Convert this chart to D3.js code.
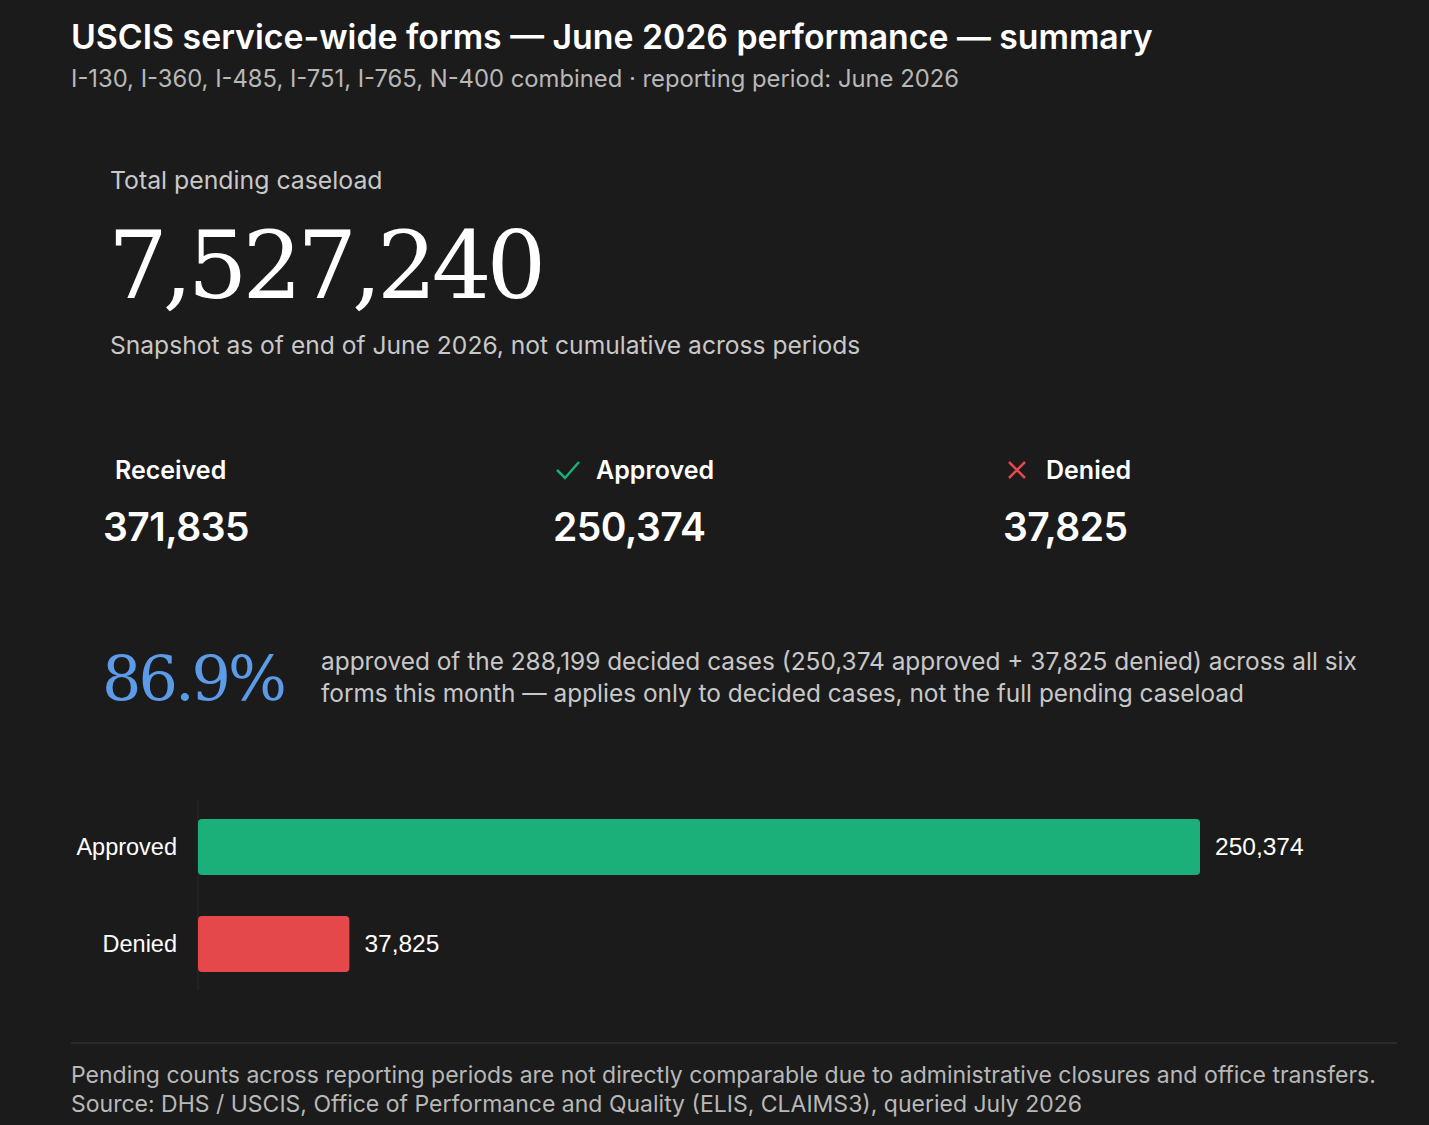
<!DOCTYPE html>
<html>
<head>
<script src="https://d3js.org/d3.v7.min.js"></script>
<style>
body { margin:0; background:#1b1b1b; }
text { font-family: Inter, "Noto Sans", sans-serif; }
</style>
</head>
<body>
<script>
var w = 1429, h = 1125;

// data
var totalPending = 7527240;
var kpiLabels = ["Received", "Approved", "Denied"];
var kpiValues = [371835, 250374, 37825];
var barCats = ["Approved", "Denied"];
var barValues = [250374, 37825];
var barColors = ["#1bb07a", "#e5484a"];

var fmt = d3.format(",");
var svg = d3.select("body").append("svg").attr("width", w).attr("height", h);

svg.append("text").attr("x", 71).attr("y", 49).attr("fill", "#ffffff")
  .style("font-size", "33.8px").style("font-weight", 600)
  .text("USCIS service-wide forms — June 2026 performance — summary");
svg.append("text").attr("x", 71).attr("y", 87).attr("fill", "#b8b8b8")
  .style("font-size", "23.8px")
  .text("I-130, I-360, I-485, I-751, I-765, N-400 combined · reporting period: June 2026");

svg.append("text").attr("x", 110).attr("y", 189).attr("fill", "#c8c8c8")
  .style("font-size", "24.8px").text("Total pending caseload");
svg.append("text").attr("x", 108).attr("y", 298).attr("fill", "#ffffff")
  .style("font-family", "'DejaVu Serif', serif").style("font-size", "94px")
  .style("letter-spacing", "-5px").text(fmt(totalPending));
svg.append("text").attr("x", 110).attr("y", 354).attr("fill", "#c8c8c8")
  .style("font-size", "24.6px").text("Snapshot as of end of June 2026, not cumulative across periods");

// KPIs
var kx = [103, 553, 1003];
kpiLabels.forEach(function(l, i) {
  var lx = kx[i] + (i == 0 ? 12 : 43);
  svg.append("text").attr("x", lx).attr("y", 479).attr("fill", "#ffffff")
    .style("font-size", "25px").style("font-weight", 600).text(l);
  svg.append("text").attr("x", kx[i]).attr("y", 541).attr("fill", "#ffffff")
    .style("font-size", "39px").style("font-weight", 600).style("letter-spacing", "-0.5px").text(fmt(kpiValues[i]));
});
svg.append("path").attr("d", "M557,470 L565,478 L579,462").attr("fill", "none")
  .attr("stroke", "#1bb07a").attr("stroke-width", 2.5);
svg.append("path").attr("d", "M1009,462 L1025,478 M1025,462 L1009,478").attr("fill", "none")
  .attr("stroke", "#e5484a").attr("stroke-width", 2.5);

// rate
var rate = kpiValues[1] / (kpiValues[1] + kpiValues[2]);
svg.append("text").attr("x", 102).attr("y", 700).attr("fill", "#5b9be8")
  .style("font-family", "'DejaVu Serif', serif").style("font-size", "62px")
  .style("letter-spacing", "-3px").text(d3.format(".1%")(rate));
svg.append("text").attr("x", 321).attr("y", 670).attr("fill", "#c8c8c8").style("font-size", "24.4px")
  .text("approved of the " + fmt(kpiValues[1] + kpiValues[2]) + " decided cases (" + fmt(kpiValues[1]) + " approved + " + fmt(kpiValues[2]) + " denied) across all six");
svg.append("text").attr("x", 321).attr("y", 702).attr("fill", "#c8c8c8").style("font-size", "24.4px")
  .text("forms this month — applies only to decided cases, not the full pending caseload");

// bars
var x = d3.scaleLinear().domain([0, 250374]).range([198, 1200]);
var y = d3.scaleBand().domain(barCats).range([819, 972]).paddingInner(41 / 97).paddingOuter(0);
svg.append("line").attr("x1", 198).attr("x2", 198).attr("y1", 800).attr("y2", 990)
  .attr("stroke", "#2a2a2a");
svg.selectAll("rect.bar").data(barValues).enter().append("rect")
  .attr("x", x(0)).attr("y", function(d, i) { return y(barCats[i]); })
  .attr("width", function(d) { return x(d) - x(0); })
  .attr("height", y.bandwidth()).attr("rx", 4)
  .attr("fill", function(d, i) { return barColors[i]; });
svg.selectAll("text.cat").data(barCats).enter().append("text")
  .attr("x", 177).attr("y", function(d) { return y(d) + y.bandwidth() / 2 + 8; })
  .attr("text-anchor", "end").attr("fill", "#ffffff")
  .style("font-family", "'Liberation Sans', Arial, sans-serif").style("font-size", "23.5px").text(function(d) { return d; });
svg.selectAll("text.val").data(barValues).enter().append("text")
  .attr("x", function(d) { return x(d) + 15; })
  .attr("y", function(d, i) { return y(barCats[i]) + y.bandwidth() / 2 + 8; })
  .attr("fill", "#ffffff")
  .style("font-family", "'Liberation Sans', Arial, sans-serif").style("font-size", "24.5px").text(fmt);

// footer
svg.append("line").attr("x1", 71).attr("x2", 1397).attr("y1", 1043).attr("y2", 1043).attr("stroke", "#3a3a3a");
svg.append("text").attr("x", 71).attr("y", 1083).attr("fill", "#b8b8b8").style("font-size", "23px")
  .text("Pending counts across reporting periods are not directly comparable due to administrative closures and office transfers.");
svg.append("text").attr("x", 71).attr("y", 1112).attr("fill", "#b8b8b8").style("font-size", "23px")
  .text("Source: DHS / USCIS, Office of Performance and Quality (ELIS, CLAIMS3), queried July 2026");
</script>
</body>
</html>
